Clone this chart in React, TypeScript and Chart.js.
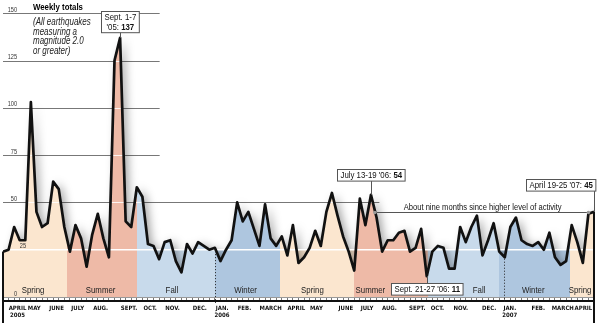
import React, { useEffect, useRef } from "react";
import { Chart, registerables } from "chart.js";

Chart.register(...registerables);

const TEXT_FF = "'Liberation Sans', Arial, sans-serif";
const TICK_FF = "'DejaVu Sans Condensed', 'DejaVu Sans', sans-serif";
const SX = 0.8; // horizontal condensing for annotation text

// Weekly earthquake totals (M2.0+), week of Apr 7-13 2005 .. Apr 19-25 2007
const weeklyCounts = [
  24, 25, 37, 30, 30, 103, 45, 37, 39, 61,
  57, 37, 24, 38, 31, 16, 33, 44, 31, 21,
  125, 137, 40, 37, 58, 53, 28, 27, 20, 29,
  30, 19, 13, 28, 23, 29, 27, 25, 26, 19,
  25, 30, 50, 40, 45, 36, 27, 49, 31, 27,
  32, 22, 38, 18, 21, 26, 35, 27, 45, 55,
  43, 32, 24, 14, 52, 38, 54, 42, 24, 30,
  30, 34, 35, 24, 26, 36, 11, 24, 27, 26,
  15, 15, 37, 29, 37, 43, 22, 30, 39, 24,
  21, 37, 42, 30, 28, 27, 29, 25, 34, 21,
  17, 19, 38, 29, 18, 44, 45,
];
const lastWeek = weeklyCounts.length - 1;

const yTickValues = [0, 25, 50, 75, 100, 125, 150];

const monthLabels = [
  "APRIL", "MAY", "JUNE", "JULY", "AUG.", "SEPT.", "OCT.", "NOV.", "DEC.",
  "JAN.", "FEB.", "MARCH", "APRIL", "MAY", "JUNE", "JULY", "AUG.", "SEPT.",
  "OCT.", "NOV.", "DEC.", "JAN.", "FEB.", "MARCH", "APRIL",
];
const monthYears = [
  "2005", "", "", "", "", "", "", "", "",
  "2006", "", "", "", "", "", "", "", "",
  "", "", "", "2007", "", "", "",
];
const monthTickWeek = [
  2.6, 5.6, 9.6, 13.4, 17.5, 22.6, 26.4, 30.4, 35.3,
  39.3, 43.3, 48.0, 52.6, 56.2, 61.5, 65.3, 69.3, 74.3,
  77.9, 82.1, 87.2, 90.9, 96.0, 100.4, 104.1,
];

const seasonNames = ["Spring", "Summer", "Fall", "Winter", "Spring", "Summer", "Fall", "Winter", "Spring"];
const seasonStartWeek = [0, 11.5, 24, 38.1, 49.6, 62.9, 76.2, 89, 101.7];
const seasonLabelWeek = [5.4, 17.5, 30.3, 43.5, 55.5, 65.9, 85.4, 95.1, 103.5];
const yearStartWeek = [38.1, 89.9];

const calloutWeeks = [21, 66, 106, 76];
const calloutDates = [["Sept. 1-7", "'05: "], ["July 13-19 '06: "], ["April 19-25 '07: "], ["Sept. 21-27 '06: "]];

const quietFromWeek = 66.7;
const quietToWeek = 105;
const quietLevel = 45;
const quietText = "About nine months since higher level of activity";

const titleText = "Weekly totals";
const subtitleLines = ["(All earthquakes", "measuring a", "magnitude 2.0", "or greater)"];

// ---- styles ----
const seasonColor: Record<string, string> = {
  Spring: "#FBE6CF",
  Summer: "#EEBAA7",
  Fall: "#C8DAEB",
  Winter: "#AEC6DF",
};
const gridEndWeek: Record<number, number> = { 50: 67.5, 75: 28.1, 100: 28.1, 125: 28.1, 150: 28.1 };

function areaPath(ctx: CanvasRenderingContext2D, pts: any[], yBase: number) {
  ctx.beginPath();
  ctx.moveTo(pts[0].x, yBase);
  for (const p of pts) ctx.lineTo(p.x, p.y);
  ctx.lineTo(pts[pts.length - 1].x, yBase);
  ctx.closePath();
}

function condWidth(ctx: CanvasRenderingContext2D, text: string, font: string) {
  ctx.font = font;
  return ctx.measureText(text).width * SX;
}

function condText(ctx: CanvasRenderingContext2D, text: string, x: number, y: number, font: string, align: string = "left") {
  const w = condWidth(ctx, text, font);
  const x0 = align === "center" ? x - w / 2 : align === "right" ? x - w : x;
  ctx.save();
  ctx.translate(x0, y);
  ctx.scale(SX, 1);
  ctx.textAlign = "left";
  ctx.textBaseline = "alphabetic";
  ctx.font = font;
  ctx.fillText(text, 0, 0);
  ctx.restore();
  return w;
}

const decorPlugin = {
  id: "quakeDecor",
  beforeDatasetsDraw(chart: any) {
    const { ctx, chartArea: ca, scales } = chart;
    const x = scales.x, y = scales.y;
    const y0 = y.getPixelForValue(0), y25 = y.getPixelForValue(25);
    const bounds = [...seasonStartWeek, lastWeek];
    ctx.save();
    seasonNames.forEach((s, k) => {
      const xa = x.getPixelForValue(bounds[k]);
      const xb = x.getPixelForValue(bounds[k + 1]);
      ctx.fillStyle = seasonColor[s];
      ctx.fillRect(xa, y25, xb - xa, y0 - y25);
    });
    ctx.strokeStyle = "#777";
    ctx.lineWidth = 1;
    yTickValues.filter((v) => v >= 50).forEach((v) => {
      const yy = Math.round(y.getPixelForValue(v)) + 0.5;
      ctx.beginPath();
      ctx.moveTo(ca.left, yy);
      ctx.lineTo(x.getPixelForValue(gridEndWeek[v]), yy);
      ctx.stroke();
    });
    // soft shadow of the filled area
    const pts = chart.getDatasetMeta(0).data;
    ctx.beginPath();
    ctx.rect(ca.left, ca.top, ca.width, ca.height);
    ctx.clip();
    ctx.shadowColor = "rgba(0,0,0,0.38)";
    ctx.shadowBlur = 10;
    ctx.shadowOffsetX = 4;
    ctx.shadowOffsetY = 1;
    ctx.fillStyle = "#ffffff";
    areaPath(ctx, pts, y0);
    ctx.fill();
    ctx.restore();
  },
  beforeDatasetDraw(chart: any, args: any) {
    if (args.index !== 0) return;
    const { ctx, chartArea: ca, scales } = chart;
    const x = scales.x, y = scales.y;
    const y0 = y.getPixelForValue(0);
    ctx.save();
    ctx.strokeStyle = "#ffffff";
    ctx.lineWidth = 1.5;
    const y25 = y.getPixelForValue(25);
    ctx.beginPath();
    ctx.moveTo(ca.left, y25);
    ctx.lineTo(ca.right, y25);
    ctx.stroke();
    const pts = chart.getDatasetMeta(0).data;
    areaPath(ctx, pts, y0);
    ctx.clip();
    ctx.strokeStyle = "rgba(255,255,255,0.85)";
    ctx.lineWidth = 1;
    yTickValues.filter((v) => v >= 50).forEach((v) => {
      const yy = Math.round(y.getPixelForValue(v)) + 0.5;
      ctx.beginPath();
      ctx.moveTo(ca.left, yy);
      ctx.lineTo(x.getPixelForValue(gridEndWeek[v]), yy);
      ctx.stroke();
    });
    ctx.restore();
  },
  afterDatasetsDraw(chart: any) {
    const { ctx, chartArea: ca, scales } = chart;
    const x = scales.x, y = scales.y;
    const px = (w: number) => x.getPixelForValue(w);
    const py = (v: number) => y.getPixelForValue(v);
    const H = chart.height;
    ctx.save();

    // year-start dotted lines
    ctx.setLineDash([1, 2]);
    ctx.strokeStyle = "#222";
    ctx.lineWidth = 1;
    yearStartWeek.forEach((w) => {
      const i0 = Math.floor(w), t = w - i0;
      const v = weeklyCounts[i0] * (1 - t) + weeklyCounts[i0 + 1] * t;
      const xx = Math.round(px(w)) + 0.5;
      ctx.beginPath();
      ctx.moveTo(xx, py(v) + 2);
      ctx.lineTo(xx, ca.bottom + 6);
      ctx.stroke();
    });
    ctx.setLineDash([]);

    // edges
    ctx.strokeStyle = "#111";
    ctx.lineWidth = 2;
    ctx.beginPath();
    ctx.moveTo(px(0), py(weeklyCounts[0]));
    ctx.lineTo(px(0), H);
    ctx.stroke();
    ctx.beginPath();
    ctx.moveTo(px(lastWeek), py(weeklyCounts[lastWeek]));
    ctx.lineTo(px(lastWeek), H);
    ctx.stroke();

    // quiet-period line
    const qy = Math.round(py(quietLevel)) + 0.5;
    ctx.strokeStyle = "#555";
    ctx.lineWidth = 1;
    ctx.beginPath();
    ctx.moveTo(px(quietFromWeek), qy);
    ctx.lineTo(px(quietToWeek), qy);
    ctx.stroke();
    ctx.fillStyle = "#999";
    [quietFromWeek, quietToWeek].forEach((w) => {
      ctx.beginPath();
      ctx.arc(px(w), qy, 1.8, 0, Math.PI * 2);
      ctx.fill();
    });
    ctx.fillStyle = "#111";
    condText(ctx, quietText, (px(quietFromWeek) + px(quietToWeek)) / 2 + 1, qy - 3, `9.5px ${TEXT_FF}`, "center");

    // season labels
    ctx.fillStyle = "#222";
    seasonNames.forEach((s, k) => {
      condText(ctx, s, px(seasonLabelWeek[k]), py(0) - 4, `9.8px ${TEXT_FF}`, "center");
    });

    // y labels
    ctx.fillStyle = "#333";
    yTickValues.forEach((v) => {
      condText(ctx, String(v), v === 25 ? 26 : 17, py(v) - 1.5, `7px ${TEXT_FF}`, "right");
    });

    // title
    ctx.fillStyle = "#000";
    condText(ctx, titleText, 33, 10, `bold 9.8px ${TEXT_FF}`);
    ctx.fillStyle = "#222";
    subtitleLines.forEach((l, i) => condText(ctx, l, 33, 25 + i * 9.7, `italic 10px ${TEXT_FF}`));

    // callouts
    const fN = `9.8px ${TEXT_FF}`, fB = `bold 9.8px ${TEXT_FF}`;
    const lineH = 9.6;
    calloutWeeks.forEach((w, k) => {
      const ax = px(w), ay = py(weeklyCounts[w]);
      const lines = calloutDates[k];
      const val = String(weeklyCounts[w]);
      const widths = lines.map((l, i) => {
        let wd = condWidth(ctx, l, fN);
        if (i === lines.length - 1) wd += condWidth(ctx, val, fB);
        return wd;
      });
      const bw = Math.max(...widths) + 6;
      const bh = lines.length * lineH + 2;
      let bx: number, by: number, cy0: number, cy1: number;
      if (k === 0) { bx = ax - bw / 2; by = ay - 6 - bh; cy0 = by + bh; cy1 = ay; }
      else if (k === 1) { bx = ax - bw / 2; by = ay - 14 - bh; cy0 = by + bh; cy1 = ay; }
      else if (k === 2) { bx = ax + 1 - bw; by = ay - 21 - bh; cy0 = by + bh; cy1 = ay; }
      else { bx = ax - bw / 2; by = ay + 7; cy0 = ay; cy1 = by; }
      ctx.strokeStyle = "#555";
      ctx.lineWidth = 1;
      ctx.beginPath();
      ctx.moveTo(Math.round(ax) + 0.5, cy0);
      ctx.lineTo(Math.round(ax) + 0.5, cy1);
      ctx.stroke();
      bx = Math.round(bx) + 0.5; by = Math.round(by) + 0.5;
      ctx.fillStyle = "#fff";
      ctx.fillRect(bx, by, bw, bh);
      ctx.strokeRect(bx, by, bw, bh);
      ctx.fillStyle = "#111";
      lines.forEach((l, i) => {
        const tx = bx + (bw - widths[i]) / 2;
        const ty = by + 1 + lineH * (i + 1) - 2;
        const lw = condText(ctx, l, tx, ty, fN);
        if (i === lines.length - 1) condText(ctx, val, tx + lw, ty, fB);
      });
    });
    ctx.restore();
  },
};

export default function App() {
  const ref = useRef<HTMLCanvasElement>(null);
  useEffect(() => {
    const canvas = ref.current!;
    const chart = new Chart(canvas, {
      type: "line",
      data: {
        datasets: [
          {
            data: weeklyCounts.map((v, i) => ({ x: i, y: v })),
            borderColor: "#111",
            borderWidth: 2.7,
            borderJoinStyle: "round",
            pointRadius: 0,
            tension: 0,
            fill: "origin",
            backgroundColor: (c: any) => {
              const ch = c.chart;
              const ca = ch.chartArea;
              const xs = ch.scales && ch.scales.x;
              if (!ca || !xs) return seasonColor.Spring;
              const w = ca.right - ca.left;
              const g = ch.ctx.createLinearGradient(ca.left, 0, ca.right, 0);
              const bounds = [...seasonStartWeek, lastWeek];
              const clamp = (f: number) => Math.max(0, Math.min(1, isFinite(f) ? f : 0));
              seasonNames.forEach((s, k) => {
                g.addColorStop(clamp((xs.getPixelForValue(bounds[k]) - ca.left) / w), seasonColor[s]);
                g.addColorStop(clamp((xs.getPixelForValue(bounds[k + 1]) - ca.left) / w), seasonColor[s]);
              });
              return g;
            },
          } as any,
        ],
      },
      options: {
        responsive: false,
        animation: false,
        events: [],
        layout: { padding: { left: 3, right: 6, top: 0, bottom: 0 } },
        plugins: { legend: { display: false }, tooltip: { enabled: false } },
        scales: {
          x: {
            type: "linear",
            min: 0,
            max: lastWeek,
            position: "bottom",
            weight: 1,
            afterBuildTicks: (axis: any) => {
              axis.ticks = monthTickWeek.map((v) => ({ value: v }));
            },
            ticks: {
              autoSkip: false,
              maxRotation: 0,
              minRotation: 0,
              padding: 3.5,
              color: "#111",
              font: { family: TICK_FF, size: 6, weight: "bold", lineHeight: 1.25 },
              callback: (_v: any, i: number) => (monthYears[i] ? [monthLabels[i], monthYears[i]] : monthLabels[i]),
            },
            grid: { display: false, drawTicks: false },
            border: { display: true, color: "#111", width: 2 },
          },
          xw: {
            type: "linear",
            min: 0,
            max: lastWeek,
            position: "bottom",
            weight: 0,
            afterBuildTicks: (axis: any) => {
              axis.ticks = weeklyCounts.map((_v, i) => ({ value: i }));
            },
            ticks: { display: false },
            grid: { display: true, drawOnChartArea: false, drawTicks: true, tickLength: 4, color: "#777", lineWidth: 1 },
            border: { display: true, color: "#999", width: 1 },
          },
          y: { display: false, min: 0, max: 157 },
        },
      } as any,
      plugins: [decorPlugin],
    });
    return () => chart.destroy();
  }, []);
  return (
    <div style={{ position: "absolute", left: 0, top: 0, width: 600, height: 323, background: "#fff" }}>
      <canvas ref={ref} width={600} height={323} style={{ display: "block", width: 600, height: 323 }} />
    </div>
  );
}
